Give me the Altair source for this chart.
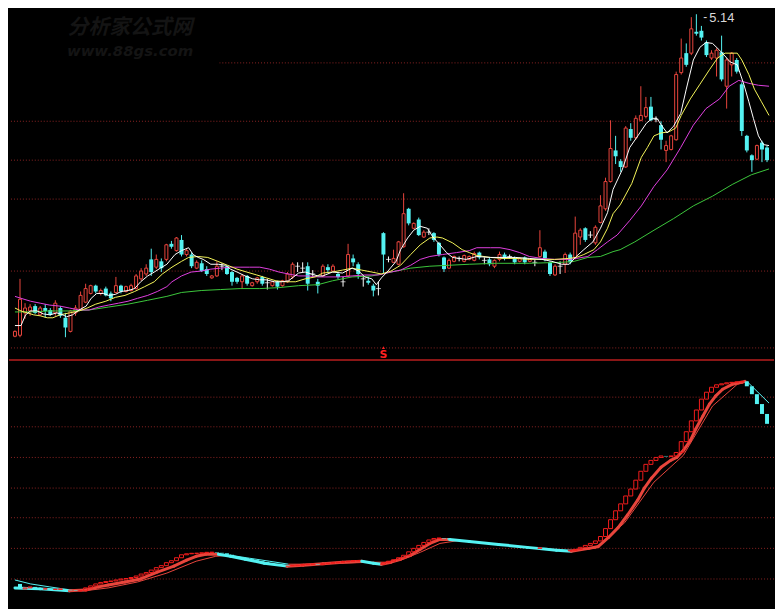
import altair as alt
import numpy as np
import pandas as pd

# ---------------- colours ----------------
RED = "#e8453c"      # rising candles
RED2 = "#f21c1c"     # indicator red
CYAN = "#54f2f2"
WHITE = "#ffffff"
YELLOW = "#f5f55a"
MAGENTA = "#e040e0"
GREEN = "#3cc83c"
GRID = "#8c2323"
SEP = "#b81e1e"

W, H1, H2 = 771, 351, 249

# ---------------- price candles (150 bars) ----------------
opens = [1.83, 1.84, 2.07, 2.09, 2.14, 2.05, 2.12, 2.10, 2.07, 2.12,
         2.02, 1.88, 2.07, 2.10, 2.18, 2.27, 2.35, 2.27, 2.32, 2.27,
         2.28, 2.35, 2.29, 2.30, 2.32, 2.42, 2.47, 2.62, 2.54, 2.60,
         2.62, 2.78, 2.71, 2.82, 2.67, 2.67, 2.53, 2.58, 2.52, 2.43,
         2.45, 2.55, 2.55, 2.49, 2.43, 2.39, 2.45, 2.35, 2.39, 2.44,
         2.38, 2.35, 2.39, 2.35, 2.39, 2.44, 2.55, 2.53, 2.55, 2.47,
         2.39, 2.45, 2.54, 2.50, 2.47, 2.39, 2.45, 2.63, 2.57, 2.42,
         2.40, 2.35, 2.32, 2.89, 2.62, 2.59, 2.57, 2.75, 3.14, 2.94,
         3.03, 2.85, 2.90, 2.89, 2.79, 2.64, 2.53, 2.60, 2.63, 2.60,
         2.62, 2.61, 2.69, 2.61, 2.62, 2.55, 2.62, 2.67, 2.65, 2.64,
         2.60, 2.64, 2.60, 2.59, 2.65, 2.70, 2.59, 2.46, 2.55, 2.57,
         2.67, 2.64, 2.85, 2.94, 2.87, 2.79, 3.00, 3.14, 3.42, 3.74,
         3.63, 3.57, 3.96, 3.87, 4.05, 4.09, 4.19, 4.06, 4.00, 3.74,
         3.75, 3.85, 4.54, 4.74, 4.74, 4.96, 4.97, 4.85, 4.69, 4.69,
         4.75, 4.40, 4.62, 4.67, 4.42, 3.89, 3.69, 3.65, 3.82, 3.77]
closes = [1.88, 2.21, 2.12, 2.13, 2.07, 2.12, 2.09, 2.05, 2.17, 2.04,
          1.92, 2.09, 2.12, 2.25, 2.32, 2.35, 2.29, 2.30, 2.25, 2.22,
          2.35, 2.29, 2.34, 2.35, 2.45, 2.50, 2.53, 2.49, 2.62, 2.53,
          2.77, 2.75, 2.84, 2.67, 2.71, 2.55, 2.59, 2.50, 2.47, 2.45,
          2.55, 2.55, 2.47, 2.39, 2.39, 2.45, 2.37, 2.38, 2.43, 2.37,
          2.38, 2.39, 2.34, 2.40, 2.47, 2.57, 2.55, 2.53, 2.37, 2.47,
          2.35, 2.55, 2.51, 2.55, 2.44, 2.39, 2.67, 2.59, 2.47, 2.42,
          2.38, 2.30, 2.32, 2.67, 2.62, 2.63, 2.80, 3.09, 2.99, 2.99,
          2.87, 2.90, 2.90, 2.82, 2.67, 2.52, 2.61, 2.65, 2.63, 2.66,
          2.65, 2.68, 2.64, 2.61, 2.57, 2.61, 2.67, 2.63, 2.65, 2.59,
          2.63, 2.59, 2.62, 2.59, 2.74, 2.63, 2.47, 2.55, 2.55, 2.67,
          2.59, 2.89, 2.92, 2.82, 2.87, 2.95, 3.17, 3.42, 3.76, 3.68,
          3.57, 3.97, 3.87, 4.07, 4.10, 4.18, 4.05, 4.06, 3.85, 3.79,
          3.89, 4.52, 4.69, 4.62, 4.99, 4.94, 4.90, 4.72, 4.74, 4.77,
          4.47, 4.67, 4.74, 4.55, 3.94, 3.74, 3.64, 3.79, 3.75, 3.64]
highs = [1.89, 2.42, 2.17, 2.16, 2.16, 2.14, 2.16, 2.12, 2.20, 2.14,
         2.07, 2.10, 2.15, 2.29, 2.37, 2.36, 2.36, 2.32, 2.34, 2.29,
         2.44, 2.36, 2.35, 2.37, 2.47, 2.53, 2.57, 2.73, 2.67, 2.63,
         2.78, 2.81, 2.85, 2.87, 2.73, 2.69, 2.61, 2.61, 2.55, 2.46,
         2.60, 2.58, 2.56, 2.50, 2.44, 2.47, 2.46, 2.39, 2.44, 2.45,
         2.42, 2.40, 2.40, 2.41, 2.49, 2.59, 2.59, 2.59, 2.59, 2.51,
         2.42, 2.57, 2.57, 2.57, 2.49, 2.44, 2.78, 2.67, 2.59, 2.45,
         2.44, 2.37, 2.39, 2.90, 2.65, 2.72, 2.81, 3.30, 3.15, 3.00,
         3.05, 2.92, 2.94, 2.90, 2.80, 2.65, 2.63, 2.66, 2.65, 2.67,
         2.66, 2.70, 2.70, 2.64, 2.64, 2.62, 2.70, 2.69, 2.67, 2.65,
         2.64, 2.65, 2.63, 2.62, 2.92, 2.72, 2.60, 2.57, 2.60, 2.69,
         2.69, 3.06, 2.94, 2.95, 2.91, 2.97, 3.28, 3.46, 4.05, 3.89,
         3.65, 3.99, 4.02, 4.10, 4.40, 4.29, 4.29, 4.09, 4.04, 3.84,
         3.90, 4.55, 4.89, 4.84, 5.11, 5.14, 5.02, 4.87, 4.77, 4.79,
         4.92, 4.69, 4.75, 4.69, 4.44, 3.90, 3.70, 3.80, 3.84, 3.79]
lows = [1.82, 1.82, 2.01, 2.04, 2.06, 2.04, 2.02, 2.04, 2.04, 2.02,
        1.82, 1.87, 2.04, 2.09, 2.17, 2.26, 2.27, 2.25, 2.24, 2.19,
        2.27, 2.27, 2.28, 2.29, 2.31, 2.40, 2.45, 2.45, 2.52, 2.49,
        2.60, 2.73, 2.70, 2.65, 2.65, 2.53, 2.52, 2.49, 2.45, 2.42,
        2.44, 2.51, 2.46, 2.35, 2.37, 2.32, 2.35, 2.34, 2.37, 2.35,
        2.31, 2.34, 2.31, 2.34, 2.38, 2.42, 2.49, 2.49, 2.30, 2.44,
        2.27, 2.44, 2.49, 2.49, 2.42, 2.34, 2.44, 2.55, 2.42, 2.34,
        2.36, 2.24, 2.25, 2.47, 2.59, 2.59, 2.56, 2.74, 2.97, 2.93,
        2.86, 2.84, 2.87, 2.80, 2.65, 2.49, 2.52, 2.59, 2.60, 2.59,
        2.61, 2.60, 2.62, 2.57, 2.55, 2.53, 2.60, 2.61, 2.63, 2.57,
        2.59, 2.57, 2.59, 2.55, 2.64, 2.60, 2.45, 2.45, 2.47, 2.48,
        2.57, 2.62, 2.77, 2.80, 2.84, 2.77, 2.99, 3.12, 3.41, 3.60,
        3.52, 3.56, 3.84, 3.85, 4.04, 4.07, 4.04, 4.03, 3.75, 3.62,
        3.74, 3.84, 4.52, 4.60, 4.72, 4.92, 4.87, 4.70, 4.67, 4.50,
        4.45, 4.17, 4.50, 4.53, 3.89, 3.72, 3.52, 3.64, 3.62, 3.62]

# ---------------- moving averages (bar index, value) ----------------
ma5_i = [0, 1.2, 2.1, 3.1, 4.4, 5.6, 6.9, 8.3, 9.5, 10.2, 11.4, 12.7, 14.1, 15.1, 16.2, 17.6,
         18.5, 19.9, 21.0, 22.4, 23.7, 24.9, 26.3, 27.6, 28.8, 30.1, 31.7, 33.0, 34.4, 35.3,
         36.3, 37.3, 38.8, 40.3, 41.7, 42.7, 44.0, 45.6, 47.1, 48.5, 49.8, 51.4, 52.9, 54.2,
         55.2, 56.2, 57.5, 58.7, 60.0, 61.0, 62.9, 64.9, 66.8, 68.1, 69.3, 70.7, 71.6, 72.6,
         73.9, 75.5, 76.4, 77.8, 79.0, 80.3, 81.7, 82.8, 84.2, 85.5, 86.7, 88.0, 89.4, 91.5,
         94.2, 96.7, 99.2, 101.9, 104.4, 106.4, 108.3, 109.8, 111.2, 112.7, 114.5, 116.0,
         117.4, 118.5, 120.3, 121.8, 123.4, 125.1, 126.3, 127.2, 128.2, 129.2, 130.5, 131.9,
         133.0, 134.4, 135.7, 136.9, 138.2, 139.6, 140.5, 141.7, 143.1, 144.4, 145.4, 146.3,
         147.3, 148.3, 149.4]
ma5_v = [1.94, 1.94, 2.05, 2.09, 2.09, 2.06, 2.05, 2.07, 2.05, 2.03, 2.05, 2.10, 2.14, 2.22,
         2.27, 2.27, 2.25, 2.26, 2.29, 2.30, 2.32, 2.39, 2.45, 2.49, 2.53, 2.57, 2.67, 2.71,
         2.74, 2.67, 2.64, 2.62, 2.57, 2.57, 2.56, 2.52, 2.49, 2.45, 2.42, 2.41, 2.41, 2.39,
         2.39, 2.40, 2.44, 2.48, 2.49, 2.47, 2.45, 2.45, 2.49, 2.48, 2.53, 2.50, 2.44, 2.42,
         2.36, 2.43, 2.50, 2.60, 2.72, 2.84, 2.92, 2.96, 2.94, 2.85, 2.77, 2.69, 2.64, 2.63,
         2.62, 2.65, 2.64, 2.64, 2.64, 2.63, 2.62, 2.60, 2.57, 2.57, 2.65, 2.72, 2.80, 2.94,
         3.10, 3.34, 3.54, 3.77, 3.89, 4.02, 4.07, 4.07, 3.99, 3.92, 3.99, 4.12, 4.37, 4.67,
         4.80, 4.85, 4.84, 4.77, 4.72, 4.65, 4.62, 4.42, 4.24, 4.07, 3.89, 3.80, 3.79]

ma10_i = [0, 1.2, 2.5, 3.7, 5.0, 6.4, 7.5, 8.9, 10.8, 12.7, 14.3, 16.0, 18.0, 19.9, 21.8, 23.7,
          25.7, 27.6, 29.2, 31.1, 33.0, 34.4, 36.3, 38.2, 40.2, 42.1, 44.0, 45.9, 47.9, 49.8,
          51.7, 53.7, 55.6, 57.5, 59.5, 61.0, 62.9, 64.9, 66.8, 68.7, 70.7, 72.6, 74.5, 76.4,
          78.4, 80.3, 82.2, 83.6, 84.7, 86.7, 88.6, 90.0, 91.5, 94.2, 96.7, 99.2, 101.9, 104.4,
          106.9, 109.7, 111.2, 112.7, 114.7, 116.0, 117.4, 118.5, 119.9, 122.2, 124.1, 125.3,
          126.6, 128.0, 129.5, 130.9, 132.0, 133.8, 135.7, 137.6, 139.2, 140.7, 143.1, 144.0,
          145.4, 146.5, 147.9, 149.4]
ma10_v = [2.12, 2.09, 2.07, 2.05, 2.04, 2.02, 2.02, 2.05, 2.07, 2.09, 2.12, 2.16, 2.19, 2.23,
          2.25, 2.29, 2.34, 2.39, 2.47, 2.54, 2.60, 2.64, 2.65, 2.64, 2.60, 2.56, 2.52, 2.49,
          2.46, 2.43, 2.40, 2.39, 2.39, 2.42, 2.44, 2.48, 2.49, 2.51, 2.53, 2.51, 2.49, 2.47,
          2.50, 2.56, 2.67, 2.77, 2.84, 2.85, 2.84, 2.79, 2.72, 2.69, 2.66, 2.64, 2.63, 2.63,
          2.62, 2.62, 2.62, 2.63, 2.64, 2.67, 2.72, 2.80, 2.94, 3.09, 3.18, 3.40, 3.67, 3.77,
          3.89, 3.92, 3.93, 3.97, 4.10, 4.27, 4.42, 4.57, 4.69, 4.74, 4.74, 4.67, 4.52, 4.37,
          4.24, 4.10]

ma20_i = [0, 1.2, 3.1, 5.0, 6.9, 8.9, 10.8, 12.7, 14.7, 16.6, 18.5, 20.5, 22.4, 24.3, 26.3,
          28.2, 30.1, 31.1, 33.0, 34.9, 36.9, 38.8, 40.7, 42.7, 44.6, 46.5, 48.5, 50.4, 52.3,
          54.2, 56.2, 58.1, 60.0, 61.6, 64.3, 66.8, 69.3, 72.0, 74.5, 76.4, 78.4, 80.3, 82.2,
          84.7, 87.5, 90.0, 91.5, 94.2, 96.1, 98.1, 100.0, 101.9, 104.4, 106.9, 109.7, 111.2,
          113.5, 115.4, 117.4, 119.3, 121.8, 124.1, 126.6, 129.2, 131.9, 134.4, 136.9, 139.6,
          141.5, 143.4, 145.4, 147.3, 149.4]
ma20_v = [2.24, 2.22, 2.19, 2.17, 2.15, 2.14, 2.12, 2.10, 2.10, 2.13, 2.15, 2.17, 2.19, 2.22,
          2.25, 2.29, 2.34, 2.39, 2.45, 2.49, 2.50, 2.52, 2.53, 2.54, 2.54, 2.54, 2.54, 2.52,
          2.49, 2.47, 2.45, 2.45, 2.44, 2.44, 2.44, 2.45, 2.46, 2.46, 2.49, 2.51, 2.56, 2.62,
          2.65, 2.67, 2.69, 2.71, 2.74, 2.74, 2.74, 2.72, 2.69, 2.65, 2.63, 2.62, 2.62, 2.63,
          2.65, 2.72, 2.80, 2.87, 3.02, 3.17, 3.37, 3.54, 3.77, 4.00, 4.17, 4.27, 4.40, 4.46,
          4.43, 4.41, 4.40]

ma60_i = [0, 3.1, 6.9, 10.8, 14.7, 18.5, 22.4, 26.3, 30.1, 33.0, 36.9, 40.7, 44.6, 48.5, 52.3,
          56.2, 60.0, 62.9, 66.8, 70.7, 74.5, 78.4, 82.2, 86.1, 90.0, 95.4, 101.9, 108.3, 110.8,
          113.5, 116.0, 118.5, 119.9, 122.8, 126.6, 130.5, 134.4, 138.2, 142.1, 145.9, 149.4]
ma60_v = [2.08, 2.08, 2.09, 2.09, 2.10, 2.13, 2.16, 2.20, 2.24, 2.28, 2.30, 2.31, 2.32, 2.32,
          2.33, 2.35, 2.36, 2.40, 2.44, 2.45, 2.49, 2.53, 2.55, 2.56, 2.57, 2.58, 2.58, 2.59,
          2.60, 2.64, 2.65, 2.70, 2.72, 2.80, 2.92, 3.04, 3.17, 3.27, 3.39, 3.49, 3.55]

grid_upper = [4.64, 4.04, 3.64, 3.24, 2.50, 1.71]
signal_idx = [73]
signal_txt = ["S"]

# ---------------- lower indicator ----------------
ind_v = [2.3, 1.8, 1.9, 2.0, 1.9, 1.8, 1.8, 1.75, 1.75, 1.8,
         1.7, 1.65, 1.6, 1.6, 1.9, 2.1, 2.3, 2.45, 2.55, 2.6,
         2.7, 2.8, 2.85, 2.95, 3.1, 3.3, 3.45, 3.7, 3.95, 4.15,
         4.45, 4.65, 4.95, 5.25, 5.35, 5.4, 5.4, 5.45, 5.5, 5.5,
         5.45, 5.4, 5.25, 5.1, 5.0, 4.9, 4.8, 4.7, 4.6, 4.5,
         4.4, 4.3, 4.25, 4.2, 4.15, 4.15, 4.2, 4.25, 4.3, 4.3,
         4.25, 4.35, 4.4, 4.45, 4.5, 4.55, 4.6, 4.65, 4.65, 4.6,
         4.5, 4.35, 4.3, 4.45, 4.6, 4.75, 4.95, 5.2, 5.55, 5.9,
         6.2, 6.5, 6.75, 6.9, 6.95, 6.9, 6.8, 6.7, 6.65, 6.6,
         6.55, 6.5, 6.45, 6.4, 6.35, 6.3, 6.25, 6.2, 6.15, 6.1,
         6.05, 6.0, 5.95, 5.9, 5.95, 5.85, 5.8, 5.75, 5.7, 5.65,
         5.7, 5.8, 6.0, 6.2, 6.4, 6.65, 7.1, 7.9, 8.8, 9.7,
         10.4, 11.2, 11.9, 12.8, 13.7, 14.4, 14.8, 15.1, 15.25, 15.2,
         15.25, 15.6, 16.7, 17.7, 18.8, 19.9, 21.0, 21.7, 22.2, 22.45,
         22.55, 22.65, 22.7, 22.75, 22.8, 22.3, 21.5, 20.5, 19.5, 18.5]

mid_i = [0, 5.0, 10.8, 14.1, 16.6, 18.5, 21.8, 24.9, 28.2, 31.5, 34.0, 35.9, 37.8, 40.3, 42.7,
         45.6, 49.4, 53.9, 57.1, 61.0, 64.9, 68.7, 71.0, 72.6, 74.5, 76.4, 78.4, 80.3, 82.2,
         84.2, 86.1, 90.0, 95.8, 101.5, 107.3, 110.2, 113.7, 115.6, 117.6, 119.5, 121.4, 123.4,
         124.7, 126.1, 128.0, 129.9, 131.1, 132.4, 133.8, 134.9, 136.3, 137.6, 138.8, 140.2,
         142.1, 144.0, 144.6]
mid_v = [1.9, 1.8, 1.6, 1.7, 2.0, 2.2, 2.5, 2.8, 3.5, 4.1, 4.7, 5.1, 5.3, 5.3, 5.1,
         4.8, 4.4, 4.1, 4.2, 4.35, 4.5, 4.6, 4.4, 4.3, 4.5, 4.8, 5.2, 5.8, 6.4,
         6.8, 6.8, 6.6, 6.3, 6.0, 5.7, 5.6, 5.9, 6.1, 7.0, 8.0, 9.3, 10.8,
         12.0, 13.0, 14.1, 14.8, 15.1, 15.8, 16.8, 18.0, 19.3, 20.5, 21.3, 22.0,
         22.5, 22.7, 22.8]

slow_i = [0, 3.1, 6.9, 10.8, 13.7, 18.5, 24.3, 30.1, 35.9, 39.8, 42.7, 46.5, 50.4, 54.2, 59.1,
          64.9, 70.7, 73.6, 76.4, 80.3, 84.2, 88.0, 95.8, 103.5, 109.3, 115.1, 120.8, 126.6,
          132.4, 138.2, 143.1, 145.0, 149.4]
slow_v = [2.7, 2.3, 2.0, 1.7, 1.6, 1.9, 2.5, 3.4, 4.6, 5.1, 5.2, 4.9, 4.6, 4.3, 4.3,
          4.4, 4.5, 4.5, 4.7, 5.5, 6.4, 6.7, 6.3, 5.9, 5.7, 5.9, 8.5, 12.6,
          15.3, 20.3, 22.5, 22.8, 20.6]

grid_lower = [21.2, 18.2, 15.1, 12.0, 9.0, 5.9, 2.8]

# ---------------- tables ----------------
N = len(opens)
k = pd.DataFrame({"i": np.arange(N), "o": opens, "h": highs, "l": lows, "c": closes})
k["dir"] = np.select([k.c > k.o, k.c < k.o], ["up", "down"], "flat")
k["top"] = k[["o", "c"]].max(axis=1)
k["bot"] = k[["o", "c"]].min(axis=1)

xs = alt.Scale(domain=[-0.2, 149.4], nice=False, zero=False)
ys1 = alt.Scale(domain=[1.59, 5.17], nice=False, zero=False)
ys2 = alt.Scale(domain=[0, 25], nice=False, zero=False)
X = alt.X("i:Q", scale=xs, axis=None)
dir_col = alt.Color("dir:N", scale=alt.Scale(domain=["up", "down", "flat"],
                                            range=[RED, CYAN, WHITE]), legend=None)
dir_col2 = alt.Color("dir:N", scale=alt.Scale(domain=["up", "down"],
                                             range=[RED2, CYAN]), legend=None)
one = pd.DataFrame({"a": [0]})

grid1 = alt.Chart(pd.DataFrame({"p": grid_upper})).mark_rule(
    color=GRID, strokeDash=[1, 2], strokeWidth=1).encode(
    y=alt.Y("p:Q", scale=ys1, axis=None))

logo_box = alt.Chart(one).mark_rect(color="black").encode(
    x=alt.value(0), x2=alt.value(212), y=alt.value(0), y2=alt.value(72))
logo1 = alt.Chart(one).mark_text(font="Noto Sans CJK SC", fontSize=21, fontWeight="bold",
                                 fontStyle="italic", color="#141414").encode(
    x=alt.value(122), y=alt.value(17), text=alt.value("分析家公式网"))
logo2 = alt.Chart(one).mark_text(font="DejaVu Sans", fontSize=15, fontWeight="bold",
                                 fontStyle="italic", color="#141414").encode(
    x=alt.value(122), y=alt.value(40), text=alt.value("www.88gs.com"))

wick = alt.Chart(k).mark_rule(strokeWidth=1).encode(
    x=X, y=alt.Y("l:Q", scale=ys1, axis=None), y2="h:Q", color=dir_col)
body_up = alt.Chart(k).transform_filter(alt.datum.dir == "up").mark_bar(
    size=3, fill="black", stroke=RED, strokeWidth=1).encode(
    x=X, y=alt.Y("bot:Q", scale=ys1, axis=None), y2="top:Q")
body_dn = alt.Chart(k).transform_filter(alt.datum.dir == "down").mark_bar(
    size=4, color=CYAN).encode(
    x=X, y=alt.Y("bot:Q", scale=ys1, axis=None), y2="top:Q")
body_flat = alt.Chart(k).transform_filter(alt.datum.dir == "flat").mark_tick(
    orient="horizontal", size=5, thickness=1, color=WHITE).encode(
    x=X, y=alt.Y("o:Q", scale=ys1, axis=None))


def ma_layer(ix, vals, color):
    d = pd.DataFrame({"i": ix, "v": vals})
    return alt.Chart(d).mark_line(color=color, strokeWidth=1).encode(
        x=X, y=alt.Y("v:Q", scale=ys1, axis=None))


mas = [ma_layer(ma60_i, ma60_v, GREEN), ma_layer(ma20_i, ma20_v, MAGENTA),
       ma_layer(ma10_i, ma10_v, YELLOW), ma_layer(ma5_i, ma5_v, WHITE)]

hi = int(k.h.idxmax())
hi_df = pd.DataFrame({"i": [hi], "p": [k.h.max()], "t": [f"{k.h.max():.2f}"]})
hi_txt = alt.Chart(hi_df).mark_text(align="left", baseline="middle", dx=13, dy=4,
                                    fontSize=13, font="Liberation Sans", color="#d8d8d8").encode(
    x=X, y=alt.Y("p:Q", scale=ys1, axis=None), text="t:N")
hi_dash = alt.Chart(hi_df).mark_text(align="left", baseline="middle", dx=7, dy=3,
                                     fontSize=12, font="Liberation Sans", color="#d8d8d8").encode(
    x=X, y=alt.Y("p:Q", scale=ys1, axis=None), text=alt.value("-"))

sig = pd.DataFrame({"i": signal_idx, "t": signal_txt})
sig_txt = alt.Chart(sig).mark_text(fontSize=11, fontWeight="bold", color="#ff2020",
                                   baseline="middle", font="DejaVu Sans").encode(
    x=X, y=alt.value(H1 - 5), text="t:N")
sig_tri = alt.Chart(sig).mark_point(shape="triangle-up", size=10, filled=True,
                                    color="#ff2020", opacity=1).encode(
    x=X, y=alt.value(H1 - 12))

upper = alt.layer(grid1, logo_box, logo1, logo2, wick, body_up, body_dn, body_flat,
                  *mas, hi_dash, hi_txt, sig_tri, sig_txt).properties(width=W, height=H1)

# ---------------- lower panel ----------------


def segs(ix, vals):
    d = pd.DataFrame({"i": ix[:-1], "i2": ix[1:], "v": vals[:-1], "v2": vals[1:]})
    d["dir"] = np.where(d.v2 >= d.v, "up", "down")
    return d


b = pd.DataFrame({"i": np.arange(N), "v": ind_v})
b["prev"] = b.v.shift(1)
b = b.dropna()
b["dir"] = np.where(b.v >= b.prev, "up", "down")

grid2 = alt.Chart(pd.DataFrame({"p": grid_lower})).mark_rule(
    color=GRID, strokeDash=[1, 2], strokeWidth=1).encode(
    y=alt.Y("p:Q", scale=ys2, axis=None))
sep = alt.Chart(one).mark_rule(color=SEP, strokeWidth=1.5).encode(y=alt.value(0.5))

slow_l = alt.Chart(segs(slow_i, slow_v)).mark_rule(strokeWidth=1).encode(
    x=X, x2="i2:Q", y=alt.Y("v:Q", scale=ys2, axis=None), y2="v2:Q", color=dir_col2)
mid_l = alt.Chart(segs(mid_i, mid_v)).mark_rule(strokeWidth=3, strokeCap="round").encode(
    x=X, x2="i2:Q", y=alt.Y("v:Q", scale=ys2, axis=None), y2="v2:Q", color=dir_col2)
box_up = alt.Chart(b).transform_filter(alt.datum.dir == "up").mark_bar(
    size=4, fillOpacity=0, stroke=RED2, strokeWidth=1).encode(
    x=X, y=alt.Y("prev:Q", scale=ys2, axis=None), y2="v:Q")
box_dn = alt.Chart(b).transform_filter(alt.datum.dir == "down").mark_bar(
    size=4, color=CYAN).encode(
    x=X, y=alt.Y("prev:Q", scale=ys2, axis=None), y2="v:Q")

lower = alt.layer(grid2, sep, slow_l, mid_l, box_up, box_dn).properties(width=W, height=H2)

chart = alt.vconcat(upper, lower, spacing=0).properties(
    background="black", padding=0, bounds="flush").configure_view(stroke=None)

chart.save("out.html", embed_options={"renderer": "svg", "actions": False})
